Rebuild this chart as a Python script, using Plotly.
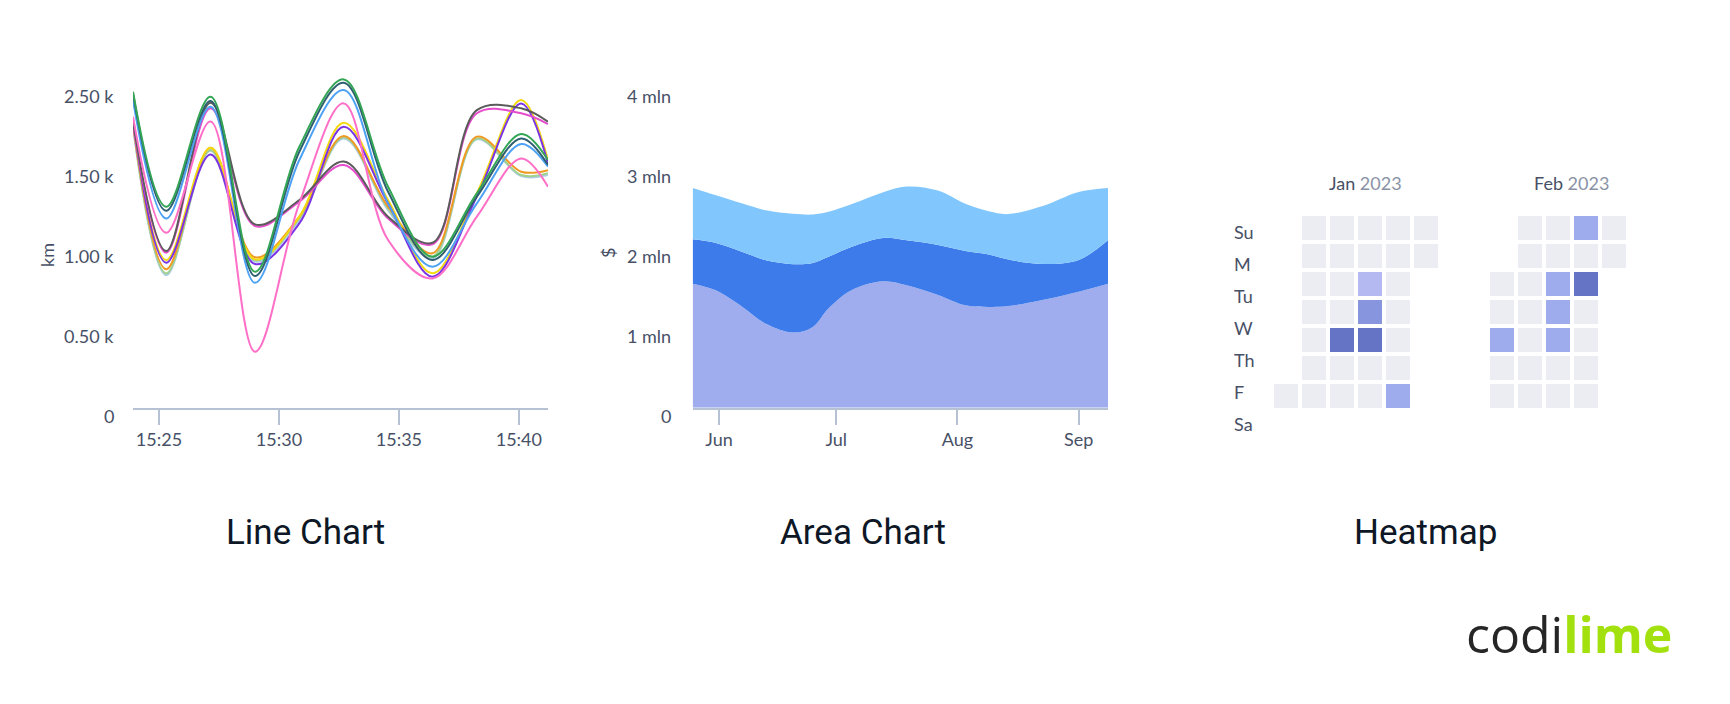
import plotly.graph_objects as go

W, H = 1730, 704

# ---------------- Line chart data (axis units, km) ----------------
line_times = ["15:23:55", "15:25:18", "15:27:09", "15:29:00", "15:30:51", "15:32:42",
              "15:34:33", "15:36:24", "15:38:15", "15:40:06", "15:41:13"]
green = [1975, 1256, 1944, 850, 1631, 2052, 1381, 944, 1340, 1711, 1548]
teal = [1965, 1231, 1917, 823, 1600, 2031, 1350, 923, 1319, 1683, 1517]
blue = [1923, 1183, 1881, 781, 1548, 1985, 1277, 881, 1277, 1648, 1506]
pink = [1819, 1094, 1788, 350, 1277, 1902, 1048, 808, 1194, 1558, 1381]
dark_gray = [1788, 979, 1906, 1146, 1298, 1538, 1194, 1031, 1860, 1871, 1788]
magenta = [1767, 969, 1871, 1136, 1288, 1517, 1183, 1021, 1840, 1840, 1773]
yellow = [1788, 923, 1625, 927, 1194, 1781, 1298, 840, 1340, 1923, 1548]
purple = [1798, 906, 1583, 898, 1152, 1756, 1277, 819, 1319, 1902, 1527]
orange = [1777, 865, 1625, 940, 1194, 1698, 1256, 965, 1694, 1475, 1485]
light_green = [1767, 840, 1610, 923, 1183, 1690, 1246, 944, 1683, 1454, 1465]
light_blue = [1756, 829, 1606, 913, 1173, 1683, 1235, 933, 1677, 1448, 1454]

line_series = [
    ("light blue", light_blue, "#a9cbe6"),
    ("light green", light_green, "#a3d28c"),
    ("orange", orange, "#f09a26"),
    ("yellow", yellow, "#f3d90f"),
    ("purple", purple, "#7a34e4"),
    ("magenta", magenta, "#e54dcc"),
    ("dark gray", dark_gray, "#5b5b5b"),
    ("pink", pink, "#ff6ec7"),
    ("blue", blue, "#4ea2f5"),
    ("teal", teal, "#2e5f71"),
    ("green", green, "#33a555"),
]
line_tickvals = [0, 500, 1000, 1500, 2000]
line_ticktext = ["0", "0.50 k", "1.00 k", "1.50 k", "2.50 k"]

# ---------------- Area chart data ($) ----------------
area_dates = ["2023-05-25 06:30", "2023-05-31", "2023-06-07", "2023-06-13", "2023-06-20",
              "2023-06-25", "2023-06-29", "2023-07-05", "2023-07-13", "2023-07-19",
              "2023-07-27", "2023-08-03", "2023-08-09", "2023-08-14", "2023-08-23",
              "2023-09-01", "2023-09-08 12:00"]
area_base = [1550000, 1470000, 1260000, 1050000, 940000, 1010000, 1240000, 1470000, 1580000,
             1530000, 1410000, 1280000, 1260000, 1270000, 1350000, 1450000, 1550000]
area_mid = [555000, 592000, 687000, 792000, 854000, 800000, 646000, 542000, 542000,
            563000, 624000, 679000, 654000, 583000, 446000, 396000, 542000]
area_top = [641000, 596000, 604000, 625000, 629000, 604000, 562000, 533000, 571000,
            671000, 680000, 591000, 541000, 567000, 729000, 850000, 654000]
area_tickvals = [0, 1e6, 2e6, 3e6, 4e6]
area_ticktext = ["0", "1 mln", "2 mln", "3 mln", "4 mln"]

# ---------------- Heatmap data (activity level, None = no cell) ----------------
N = None
jan_levels = [
    [N, 0, 0, 0, 0, 0],
    [N, 0, 0, 0, 0, 0],
    [N, 0, 0, 1, 0, N],
    [N, 0, 0, 3, 0, N],
    [N, 0, 4, 4, 0, N],
    [N, 0, 0, 0, 0, N],
    [0, 0, 0, 0, 2, N],
]
feb_levels = [
    [N, 0, 0, 2, 0],
    [N, 0, 0, 0, 0],
    [0, 0, 2, 4, N],
    [0, 0, 2, 0, N],
    [2, 0, 2, 0, N],
    [0, 0, 0, 0, N],
    [0, 0, 0, 0, N],
]
day_labels = ["Su", "M", "Tu", "W", "Th", "F", "Sa"]
month_labels = [("Jan", "2023"), ("Feb", "2023")]
level_colors = ["#ecedf3", "#b5b9f1", "#9eacee", "#8795df", "#6574c4"]

# ---------------- helpers ----------------
def fx(px):
    return px / W


def fy(py):
    return 1 - py / H


TXT = "#475066"
AXC = "#b7c1d4"
tickfont = dict(family="Lato", size=18, color=TXT)

fig = go.Figure()

for name, vals, col in line_series:
    fig.add_trace(go.Scatter(
        x=["2023-01-01 " + t for t in line_times], y=vals, name=name, mode="lines",
        line=dict(color=col, width=2, shape="spline", smoothing=1.0),
        xaxis="x", yaxis="y", hoverinfo="skip", showlegend=False))

for vals, col in [(area_base, "#9fadee"), (area_mid, "#3d7bea"), (area_top, "#81c7fd")]:
    fig.add_trace(go.Scatter(
        x=area_dates, y=vals, mode="lines", stackgroup="one",
        line=dict(width=0, shape="spline", smoothing=1.0), fillcolor=col,
        xaxis="x2", yaxis="y2", hoverinfo="skip", showlegend=False))

n = len(level_colors) - 1
cs = []
for i, c in enumerate(level_colors):
    lo = max(0, (i - 0.5) / n)
    hi = min(1, (i + 0.5) / n)
    cs += [[lo, c], [hi, c]]

fig.add_trace(go.Heatmap(z=jan_levels, x=list(range(6)), y=list(range(7)), xgap=4, ygap=4,
                         colorscale=cs, zmin=0, zmax=n, showscale=False, hoverinfo="skip",
                         xaxis="x3", yaxis="y3"))
fig.add_trace(go.Heatmap(z=feb_levels, x=list(range(5)), y=list(range(7)), xgap=4, ygap=4,
                         colorscale=cs, zmin=0, zmax=n, showscale=False, hoverinfo="skip",
                         xaxis="x4", yaxis="y4"))

plot_top, plot_bot = 70, 407.7
px_per_unit = 80.0
yrange_units = (plot_bot - plot_top) / px_per_unit
label_drop = 8  # value labels sit slightly below their tick level in the reference

common_x = dict(showline=True, linecolor=AXC, linewidth=2, ticks="outside", ticklen=15,
                tickwidth=2, tickcolor=AXC, showgrid=False, zeroline=False,
                tickfont=tickfont, ticklabelstandoff=0)
common_y = dict(showgrid=False, zeroline=False, showline=False, ticks="",
                showticklabels=False)


def ann(text, px, py, font, xanchor="center", **kw):
    return dict(text=text, x=fx(px), y=fy(py), xref="paper", yref="paper",
                xanchor=xanchor, yanchor="middle", showarrow=False, font=font, **kw)


small = dict(family="Lato", size=18, color=TXT)
annotations = []
# y value labels (placed along each y axis' own scale)
for vals, texts, unit, right_px in [(line_tickvals, line_ticktext, 500, 116),
                                    (area_tickvals, area_ticktext, 1e6, 673)]:
    for v, t in zip(vals, texts):
        py = plot_bot - v / unit * px_per_unit + label_drop
        annotations.append(ann(t, right_px, py, small, xanchor="right"))

annotations.append(ann("km", 47, 255, small, textangle=-90))
annotations.append(ann("$", 608, 253, small, textangle=-90))
for t, cx in [("Line Chart", 305), ("Area Chart", 863), ("Heatmap", 1425)]:
    annotations.append(ann(t, cx, 532, dict(family="Roboto", size=35, color="#0d1726")))
for (m, yr), cx in zip(month_labels, [1365, 1571]):
    annotations.append(ann(f"{m} <span style='color:#8a92a6'>{yr}</span>", cx, 183, small))
for i, d in enumerate(day_labels):
    annotations.append(ann(d, 1232, 231.7 + 32 * i, small, xanchor="left"))
annotations.append(ann("<span style='color:#262626'>codi</span><b><span style='color:#a3e10e'>lime</span></b>",
                       1464, 634, dict(family="Open Sans", size=50), xanchor="left"))

fig.update_layout(
    width=W, height=H, autosize=False, margin=dict(l=0, r=0, t=0, b=0, pad=0),
    paper_bgcolor="white", plot_bgcolor="white", showlegend=False,
    xaxis=dict(domain=[fx(133), fx(548)], anchor="y", type="date",
               range=["2023-01-01 15:23:55", "2023-01-01 15:41:13"],
               tickformat="%H:%M", dtick=300000, tick0="2023-01-01 15:25:00", **common_x),
    yaxis=dict(domain=[fy(plot_bot), fy(plot_top)], anchor="x", range=[0, yrange_units * 500],
               **common_y),
    xaxis2=dict(domain=[fx(692.7), fx(1108)], anchor="y2", type="date",
                range=["2023-05-25 06:30", "2023-09-08 12:00"],
                tickformat="%b", dtick="M1", tick0="2023-06-01", **common_x),
    yaxis2=dict(domain=[fy(plot_bot), fy(plot_top)], anchor="x2", range=[0, yrange_units * 1e6],
                **common_y),
    xaxis3=dict(domain=[fx(1272), fx(1440)], anchor="y3", range=[-0.5, 5.5], visible=False),
    yaxis3=dict(domain=[fy(410), fy(214)], anchor="x3", range=[6.5, -0.5], visible=False),
    xaxis4=dict(domain=[fx(1488), fx(1628)], anchor="y4", range=[-0.5, 4.5], visible=False),
    yaxis4=dict(domain=[fy(410), fy(214)], anchor="x4", range=[6.5, -0.5], visible=False),
    annotations=annotations,
)

fig.write_html("out.html", config={"responsive": False, "displayModeBar": False})
